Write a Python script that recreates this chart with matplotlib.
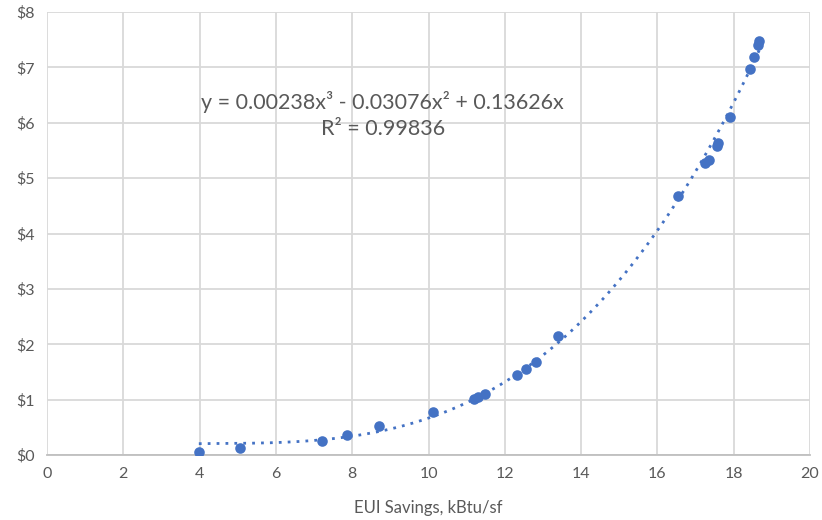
import numpy as np
import matplotlib
matplotlib.use("Agg")
import matplotlib.pyplot as plt
from matplotlib.ticker import FuncFormatter

eui_savings = [3.98, 5.06, 7.21, 7.86, 8.70, 10.11, 11.19, 11.31, 11.48,
               12.31, 12.56, 12.81, 13.39, 16.55, 17.26, 17.34, 17.55, 17.60,
               17.90, 18.43, 18.54, 18.65, 18.67]
cost = [0.05, 0.13, 0.25, 0.36, 0.52, 0.78, 1.01, 1.05, 1.11,
        1.44, 1.56, 1.68, 2.15, 4.68, 5.27, 5.32, 5.58, 5.63,
        6.10, 6.97, 7.18, 7.41, 7.47]
coeffs = [0.00238, -0.03076, 0.13626, 0.0]   # cubic trendline
r_squared = 0.99836
x_ticks = [0, 2, 4, 6, 8, 10, 12, 14, 16, 18, 20]
y_ticks = [0, 1, 2, 3, 4, 5, 6, 7, 8]

plt.rcParams['font.family'] = ['Lato', 'DejaVu Sans']

fig = plt.figure(figsize=(8.22, 5.2), dpi=100)
ax = fig.add_axes([47/822, 65/520, (810-47)/822, (455-12)/520])

blue = '#4472C4'
grey_text = '#595959'
grid = '#D9D9D9'

xs = np.linspace(min(eui_savings), max(eui_savings), 300)
ax.plot(xs, np.polyval(coeffs, xs), linestyle=(0, (1, 2.2)), color=blue, lw=2.0, zorder=3)
ax.scatter(eui_savings, cost, s=58, color=blue, zorder=4, linewidths=0)

ax.set_xlim(0, 20)
ax.set_ylim(0, 8)
ax.set_xticks(x_ticks)
ax.set_yticks(y_ticks)
ax.yaxis.set_major_formatter(FuncFormatter(lambda v, p: f"${int(v)}"))
ax.grid(True, color=grid, lw=1.3, zorder=0)
ax.set_axisbelow(True)
for s in ax.spines.values():
    s.set_visible(False)
ax.spines['bottom'].set_visible(True)
ax.spines['bottom'].set_color('#BFBFBF')
ax.spines['bottom'].set_linewidth(1.3)
ax.tick_params(length=0, labelsize=11.5, labelcolor=grey_text, pad=9)
ax.set_xlabel("EUI Savings, kBtu/sf", fontsize=12, color=grey_text, labelpad=13)

ax.text(8.8, 6.37, "y = 0.00238x³ - 0.03076x² + 0.13626x", ha='center', va='center',
        fontsize=15.5, color=grey_text)
ax.text(8.8, 5.88, f"R² = {r_squared}", ha='center', va='center', fontsize=15.5, color=grey_text)

fig.savefig("out.png", dpi=100)
